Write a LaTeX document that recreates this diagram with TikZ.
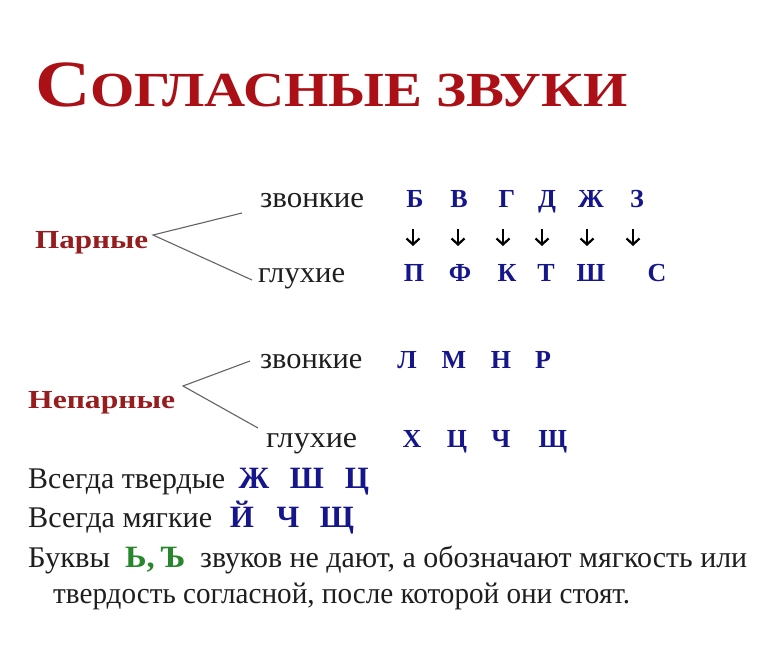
\documentclass[tikz,border=0pt]{standalone}
\usepackage{fontspec}
\usepackage{graphicx}
\setmainfont{Liberation Serif}
\usetikzlibrary{arrows.meta}
\definecolor{titlered}{RGB}{170,16,22}
\definecolor{labred}{RGB}{150,28,30}
\definecolor{letblue}{RGB}{22,22,140}
\definecolor{letgreen}{RGB}{40,135,45}
\definecolor{linegray}{RGB}{100,100,100}
\definecolor{txtgray}{RGB}{30,30,30}
\newcommand\fitw[2]{\resizebox{#1}{\height}{#2}}
\tikzset{
  txt/.style={anchor=base west, inner sep=0pt, text=txtgray, font=\fontsize{30}{36}\selectfont},
  bigtxt/.style={txt, font=\fontsize{30}{36}\selectfont},
  lab/.style={anchor=base west, inner sep=0pt, text=labred, font=\bfseries\fontsize{26}{30}\selectfont},
  let/.style={anchor=base, inner sep=0pt, text=letblue, font=\bfseries\fontsize{26}{30}\selectfont},
  biglet/.style={let, font=\bfseries\fontsize{31}{36}\selectfont},
  branch/.style={draw=linegray, line width=1.1pt},
  arr/.style={-{Straight Barb[length=6pt,width=13pt,line width=2.2pt]}, line width=2.4pt, black},
}
\begin{document}
\begin{tikzpicture}[x=1pt,y=-1pt]
\useasboundingbox[fill=white] (0,0) rectangle (760,652);

% title
\node[anchor=base west, inner sep=0pt, text=titlered, font=\bfseries] (title) at (35,107)
  {\fitw{592pt}{\fontsize{66}{70}\selectfont С\fontsize{49}{52}\selectfont ОГЛАСНЫЕ ЗВУКИ}};

% paired
\node[lab] (par) at (35,249) {\fitw{113pt}{Парные}};
\node[txt] (zv1) at (260,208) {\fitw{104pt}{звонкие}};
\node[txt] (gl1) at (258,283) {\fitw{87pt}{глухие}};
\coordinate (pv) at (153,235);
\coordinate (pu) at (242,213);
\coordinate (pd) at (252,280);
\draw[branch] (pu) -- (pv) -- (pd);

\node[let] (b1) at (415,208) {Б};
\node[let] (b2) at (459,208) {В};
\node[let] (b3) at (507,208) {Г};
\node[let] (b4) at (547,208) {Д};
\node[let] (b5) at (591,208) {Ж};
\node[let] (b6) at (637,208) {З};

\node[let] (d1) at (414,282) {П};
\node[let] (d2) at (460,282) {Ф};
\node[let] (d3) at (507,282) {К};
\node[let] (d4) at (546,282) {Т};
\node[let] (d5) at (591,282) {Ш};
\node[let] (d6) at (657,282) {С};

\foreach \i/\x in {1/413,2/458,3/503,4/542,5/587,6/633}{
  \coordinate (as\i) at (\x,229);
  \coordinate (ae\i) at (\x,246);
  \draw[arr] (as\i) -- (ae\i);
}

% unpaired
\node[lab] (nepar) at (28,408) {\fitw{147pt}{Непарные}};
\node[txt] (zv2) at (260,368) {\fitw{102pt}{звонкие}};
\node[txt] (gl2) at (266,447) {\fitw{91pt}{глухие}};
\coordinate (nv) at (183,386);
\coordinate (nu) at (250,361);
\coordinate (nd) at (258,428);
\draw[branch] (nu) -- (nv) -- (nd);

\node[let] (s1) at (407,368) {Л};
\node[let] (s2) at (454,368) {М};
\node[let] (s3) at (501,368) {Н};
\node[let] (s4) at (543,368) {Р};

\node[let] (u1) at (412,447) {Х};
\node[let] (u2) at (457,447) {Ц};
\node[let] (u3) at (501,447) {Ч};
\node[let] (u4) at (553,447) {Щ};

% bottom
\node[bigtxt] (hard) at (28,488) {\fitw{197pt}{Всегда твердые}};
\node[biglet] (h1) at (254,488) {Ж};
\node[biglet] (h2) at (307,488) {Ш};
\node[biglet] (h3) at (357,488) {Ц};

\node[bigtxt] (soft) at (28,527) {\fitw{184pt}{Всегда мягкие}};
\node[biglet] (m1) at (242,527) {Й};
\node[biglet] (m2) at (288,527) {Ч};
\node[biglet] (m3) at (337,527) {Щ};

\node[bigtxt] (bukvy) at (28,567) {\fitw{82pt}{Буквы}};
\node[anchor=base west, inner sep=0pt, text=letgreen, font=\bfseries\fontsize{31}{36}\selectfont] (signs) at (125,567) {\fitw{60pt}{Ь,\,Ъ}};
\node[bigtxt] (rest1) at (200,567) {\fitw{547pt}{звуков не дают, а обозначают мягкость или}};
\node[bigtxt] (rest2) at (53,603) {\fitw{577pt}{твердость согласной, после которой они стоят.}};
\end{tikzpicture}
\end{document}
